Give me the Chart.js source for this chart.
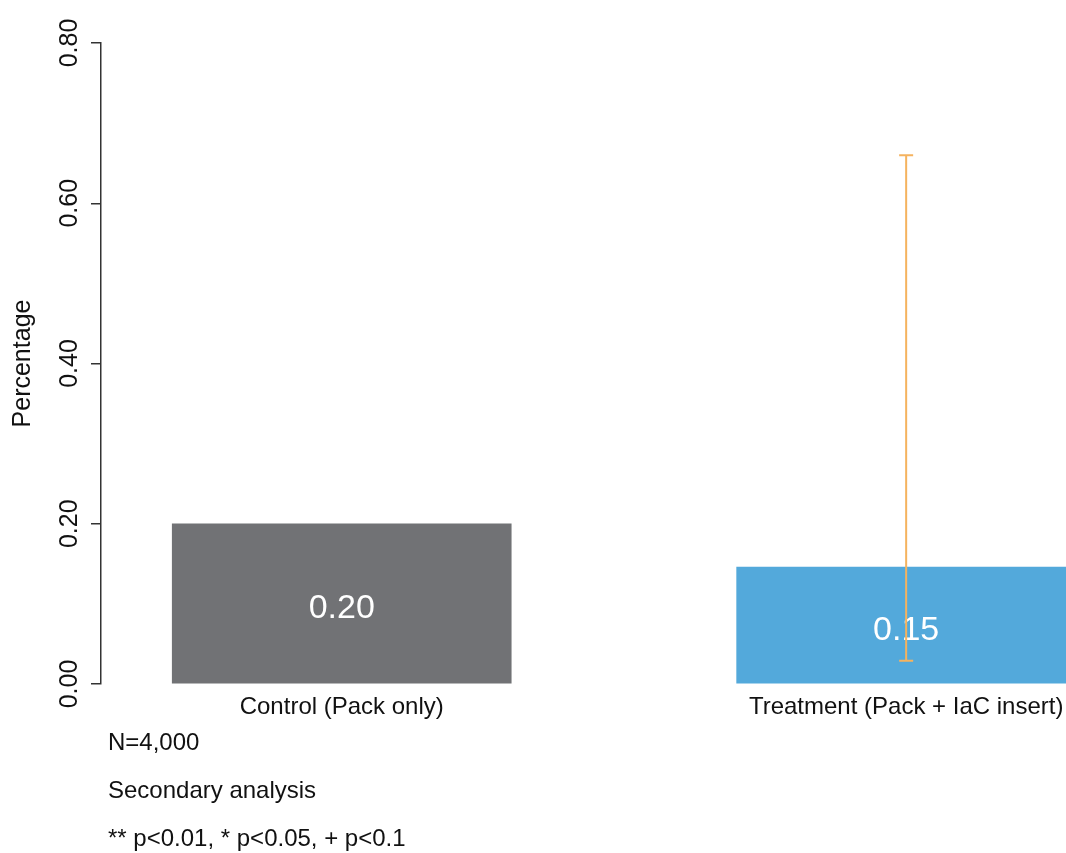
<!DOCTYPE html>
<html lang="en">
<head>
    <meta charset="UTF-8">
    <title>Percentage by group</title>
    <style>
        body { margin: 0; background: #fff; }
        #wrap { position: relative; width: 1066px; height: 853px; }
        #chart { position: absolute; left: 0; top: 0; }
        .note {
            position: absolute;
            left: 108px;
            font-family: "Liberation Sans", Arial, sans-serif;
            font-size: 24px;
            line-height: 28px;
            color: #111;
        }
    </style>
    <script src="https://cdn.jsdelivr.net/npm/chart.js"></script>
</head>
<body>
    <div id="wrap">
        <canvas id="chart" width="1066" height="853"></canvas>
        <div class="note" style="top: 728px;">N=4,000</div>
        <div class="note" style="top: 776px;">Secondary analysis</div>
        <div class="note" style="top: 824px;">** p&lt;0.01, * p&lt;0.05, + p&lt;0.1</div>
    </div>

    <script>
        const categories = ['Control (Pack only)', 'Treatment (Pack + IaC insert)'];
        const values = [0.20, 0.146];
        const errLow = [null, 0.029];
        const errHigh = [null, 0.66];
        const barColors = ['#717275', '#53a9db'];

        const FONT = '"Liberation Sans", Arial, sans-serif';

        // value labels in the middle of each bar, then the error bar on top
        const barExtras = {
            id: 'barExtras',
            afterDatasetsDraw(chart) {
                const ctx = chart.ctx;
                const meta = chart.getDatasetMeta(0);
                const y = chart.scales.y;
                ctx.save();
                ctx.fillStyle = '#ffffff';
                ctx.font = '34px ' + FONT;
                ctx.textAlign = 'center';
                ctx.textBaseline = 'middle';
                meta.data.forEach((bar, i) => {
                    ctx.fillText(values[i].toFixed(2), bar.x, (bar.y + bar.base) / 2 + 5);
                });
                ctx.strokeStyle = '#f5b35f';
                ctx.lineWidth = 2;
                meta.data.forEach((bar, i) => {
                    if (errLow[i] == null) return;
                    const yl = y.getPixelForValue(errLow[i]);
                    const yh = y.getPixelForValue(errHigh[i]);
                    ctx.beginPath();
                    ctx.moveTo(bar.x, yl);
                    ctx.lineTo(bar.x, yh);
                    ctx.moveTo(bar.x - 7, yl);
                    ctx.lineTo(bar.x + 7, yl);
                    ctx.moveTo(bar.x - 7, yh);
                    ctx.lineTo(bar.x + 7, yh);
                    ctx.stroke();
                });
                ctx.restore();
            }
        };

        new Chart(document.getElementById('chart'), {
            type: 'bar',
            data: {
                datasets: [{
                    data: values.map((v, i) => ({ x: i, y: v })),
                    backgroundColor: barColors,
                    borderWidth: 0,
                    barThickness: 339
                }]
            },
            options: {
                responsive: false,
                animation: false,
                layout: { padding: { top: 43, right: 0, bottom: 0, left: 0 } },
                plugins: { legend: { display: false }, tooltip: { enabled: false } },
                scales: {
                    x: {
                        type: 'linear',
                        offset: false,
                        min: -0.4265,
                        max: 1.2832,
                        border: { display: false },
                        grid: { display: false, drawTicks: false },
                        afterBuildTicks(scale) {
                            scale.ticks = categories.map((c, i) => ({ value: i }));
                        },
                        afterFit(scale) {
                            scale.height = 169;
                            scale.paddingRight = 0;
                            scale.paddingLeft = 0;
                        },
                        ticks: {
                            padding: 9,
                            maxRotation: 0,
                            autoSkip: false,
                            color: '#111',
                            font: { family: FONT, size: 24 },
                            callback: (v) => categories[v]
                        }
                    },
                    y: {
                        min: 0,
                        max: 0.8,
                        border: { display: true, color: '#333', width: 1.5 },
                        grid: { drawOnChartArea: false, tickLength: 10, color: '#333', lineWidth: 1.5 },
                        afterFit(scale) { scale.width = 101; },
                        ticks: {
                            stepSize: 0.2,
                            minRotation: 90,
                            maxRotation: 90,
                            crossAlign: 'center',
                            padding: -3,
                            color: '#111',
                            font: { family: FONT, size: 25 },
                            callback: (v) => v.toFixed(2)
                        },
                        title: {
                            display: true,
                            text: 'Percentage',
                            color: '#111',
                            padding: { top: 8, bottom: 0 },
                            font: { family: FONT, size: 25 }
                        }
                    }
                }
            },
            plugins: [barExtras]
        });
    </script>
</body>
</html>
